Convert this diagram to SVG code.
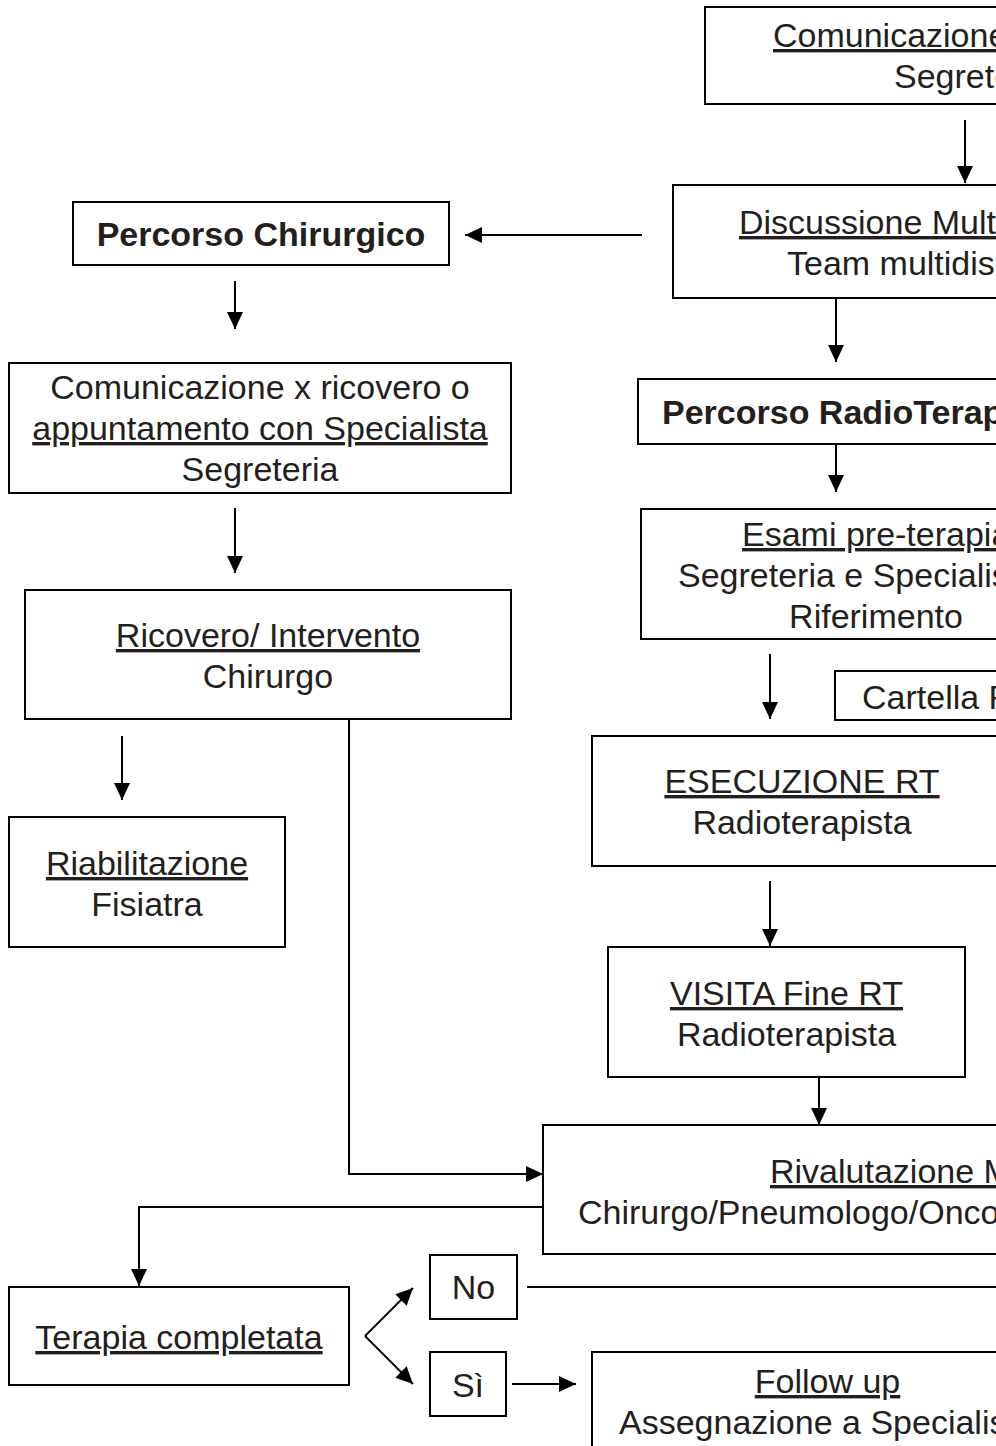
<svg xmlns="http://www.w3.org/2000/svg" width="996" height="1446" viewBox="0 0 996 1446">
<defs>
<style>
.box{fill:#fff;stroke:#000;stroke-width:2}
.t{font-family:"Liberation Sans",Arial,sans-serif;font-size:34px;fill:#231f20}
.b{font-weight:bold}
.m{text-anchor:middle}
.u{text-decoration:underline;text-decoration-skip-ink:none}
.c{fill:none;stroke:#000;stroke-width:2}
</style>
<marker id="ah" markerWidth="17" markerHeight="16" refX="17" refY="8" orient="auto" markerUnits="userSpaceOnUse">
<path d="M0,0 L17,8 L0,16 z" fill="#000"/>
</marker>
</defs>
<rect width="996" height="1446" fill="#fff"/>

<g id="connectors">
<path class="c" d="M965,120 V183" marker-end="url(#ah)"/>
<path class="c" d="M642,235 H465" marker-end="url(#ah)"/>
<path class="c" d="M235,281 V329" marker-end="url(#ah)"/>
<path class="c" d="M235,508 V573" marker-end="url(#ah)"/>
<path class="c" d="M122,736 V800" marker-end="url(#ah)"/>
<path class="c" d="M349,719 V1174 H543" marker-end="url(#ah)"/>
<path class="c" d="M836,298 V362" marker-end="url(#ah)"/>
<path class="c" d="M836,444 V492" marker-end="url(#ah)"/>
<path class="c" d="M770,654 V719" marker-end="url(#ah)"/>
<path class="c" d="M770,881 V946" marker-end="url(#ah)"/>
<path class="c" d="M819,1077 V1125" marker-end="url(#ah)"/>
<path class="c" d="M543,1207 H139 V1286" marker-end="url(#ah)"/>
<path class="c" d="M365,1336 L413,1288" marker-end="url(#ah)"/>
<path class="c" d="M365,1336 L413,1384" marker-end="url(#ah)"/>
<path class="c" d="M527,1287 H996"/>
<path class="c" d="M512,1384 H576" marker-end="url(#ah)"/>
</g>

<g id="n-comunicazione">
<rect class="box" x="705" y="7" width="400" height="97"/>
<text class="t u" x="773" y="47">Comunicazione</text>
<text class="t" x="894" y="88">Segrete</text>
</g>

<g id="n-discussione">
<rect class="box" x="673" y="185" width="400" height="113"/>
<text class="t u" x="739" y="234">Discussione Mult</text>
<text class="t" x="787" y="275">Team multidis</text>
</g>

<g id="n-percorso-chirurgico">
<rect class="box" x="73" y="202" width="376" height="63"/>
<text class="t b m" x="261" y="246">Percorso Chirurgico</text>
</g>

<g id="n-comunicazione-ricovero">
<rect class="box" x="9" y="363" width="502" height="130"/>
<text class="t m" x="260" y="399">Comunicazione x ricovero o</text>
<text class="t m u" x="260" y="440">appuntamento con Specialista</text>
<text class="t m" x="260" y="481">Segreteria</text>
</g>

<g id="n-ricovero">
<rect class="box" x="25" y="590" width="486" height="129"/>
<text class="t m u" x="268" y="647">Ricovero/ Intervento</text>
<text class="t m" x="268" y="688">Chirurgo</text>
</g>

<g id="n-riabilitazione">
<rect class="box" x="9" y="817" width="276" height="130"/>
<text class="t m u" x="147" y="875">Riabilitazione</text>
<text class="t m" x="147" y="916">Fisiatra</text>
</g>

<g id="n-percorso-rt">
<rect class="box" x="638" y="379" width="400" height="65"/>
<text class="t b" x="662" y="424">Percorso RadioTerap</text>
</g>

<g id="n-esami">
<rect class="box" x="641" y="509" width="470" height="130"/>
<text class="t u" x="742" y="546">Esami pre-terapia</text>
<text class="t" x="678" y="587">Segreteria e Specialis</text>
<text class="t m" x="876" y="628">Riferimento</text>
</g>

<g id="n-cartella">
<rect class="box" x="835" y="671" width="300" height="49"/>
<text class="t" x="862" y="709">Cartella R</text>
</g>

<g id="n-esecuzione">
<rect class="box" x="592" y="736" width="420" height="130"/>
<text class="t m u" x="802" y="793">ESECUZIONE RT</text>
<text class="t m" x="802" y="834">Radioterapista</text>
</g>

<g id="n-visita">
<rect class="box" x="608" y="947" width="357" height="130"/>
<text class="t m u" x="786.5" y="1005">VISITA Fine RT</text>
<text class="t m" x="786.5" y="1046">Radioterapista</text>
</g>

<g id="n-rivalutazione">
<rect class="box" x="543" y="1125" width="500" height="129"/>
<text class="t u" x="770" y="1183">Rivalutazione M</text>
<text class="t" x="578" y="1224">Chirurgo/Pneumologo/Onco</text>
</g>

<g id="n-terapia">
<rect class="box" x="9" y="1287" width="340" height="98"/>
<text class="t m u" x="179" y="1349">Terapia completata</text>
</g>

<g id="n-no">
<rect class="box" x="430" y="1255" width="87" height="64"/>
<text class="t m" x="473.5" y="1299">No</text>
</g>

<g id="n-si">
<rect class="box" x="430" y="1352" width="76" height="64"/>
<text class="t m" x="468" y="1397">Sì</text>
</g>

<g id="n-followup">
<rect class="box" x="592" y="1352" width="470" height="200"/>
<text class="t m u" x="827.5" y="1393">Follow up</text>
<text class="t" x="619" y="1434">Assegnazione a Specialis</text>
</g>
</svg>
